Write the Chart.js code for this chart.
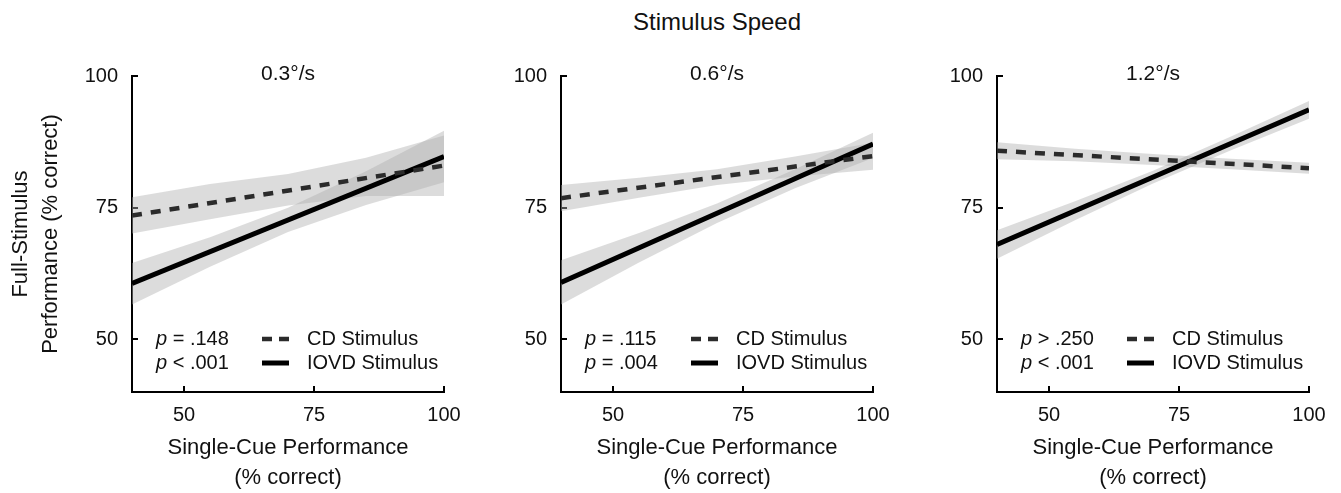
<!DOCTYPE html>
<html>
<head>
<meta charset="utf-8">
<script src="https://cdn.jsdelivr.net/npm/chart.js@4.4.1/dist/chart.umd.min.js"></script>
<style>
  body { margin: 0; background: #fff; }
  #wrap { position: relative; width: 1341px; height: 493px; overflow: hidden; }
  #title {
    position: absolute; left: 517px; width: 400px; top: 7px;
    text-align: center; font: 24px/30px "Liberation Sans", Arial, sans-serif;
    color: #111;
  }
  canvas { position: absolute; top: 0; }
</style>
</head>
<body>
<div id="wrap">
  <div id="title">Stimulus Speed</div>
  <canvas id="c0" width="460" height="493" style="left:0px"></canvas>
  <canvas id="c1" width="460" height="493" style="left:429px"></canvas>
  <canvas id="c2" width="460" height="493" style="left:865px"></canvas>
</div>
<script>
var FONT = '"Liberation Sans", Arial, sans-serif';

// panels (stimulus speed)
var speeds = ['0.3°/s', '0.6°/s', '1.2°/s'];

// fitted regression lines, at x = 40 and x = 100
var lineX = [40, 100];
var cdLine = [[73.5, 83.0], [76.8, 84.8], [85.8, 82.5]];
var iovdLine = [[60.6, 84.7], [60.8, 87.1], [68.0, 93.6]];

// confidence bands
var bandX = [40, 55, 70, 85, 101];
var cdUpper = [[77.0, 79.5, 81.4, 84.5, 89.0], [79.3, 80.7, 82.3, 84.7, 87.5], [87.4, 86.2, 85.2, 84.3, 83.5]];
var cdLower = [[70.1, 72.8, 75.4, 77.2, 77.2], [74.3, 76.9, 79.3, 80.9, 82.3], [84.2, 83.8, 83.1, 82.3, 81.4]];
var iovdUpper = [[64.5, 69.4, 75.0, 81.9, 90.1], [65.0, 70.2, 75.8, 82.3, 89.7], [70.7, 76.2, 82.0, 88.5, 95.7]];
var iovdLower = [[56.6, 63.8, 70.4, 75.5, 80.1], [56.6, 64.6, 72.1, 78.7, 84.8], [65.3, 72.6, 79.6, 85.9, 92.3]];

// p values
var pCD = ['= .148', '= .115', '> .250'];
var pIOVD = ['< .001', '= .004', '< .001'];

var xTicks = [50, 75, 100];
var yTicks = [50, 75, 100];

var bandColor = 'rgba(173,173,173,0.43)';

function pts(xs, ys) {
  return xs.map(function (x, i) { return { x: x, y: ys[i] }; });
}

function makePanel(i) {
  var ctx = document.getElementById('c' + i).getContext('2d');

  // panel title, p values and legend drawn inside the plot
  var notes = {
    id: 'notes' + i,
    afterDraw: function (chart) {
      var c = chart.ctx, a = chart.chartArea;
      c.save();
      c.fillStyle = '#111';
      c.textBaseline = 'middle';
      c.textAlign = 'center';
      c.font = '21px ' + FONT;
      c.fillText(speeds[i], (a.left + a.right) / 2, 74);

      c.textAlign = 'left';
      var rows = [[pCD[i], 339], [pIOVD[i], 363]];
      rows.forEach(function (r) {
        c.font = 'italic 20px ' + FONT;
        c.fillText('p', a.left + 24, r[1]);
        var w = c.measureText('p').width;
        c.font = '20px ' + FONT;
        c.fillText(' ' + r[0], a.left + 24 + w, r[1]);
      });

      c.lineCap = 'butt';
      c.strokeStyle = '#2b2b2b';
      c.lineWidth = 4.5;
      c.setLineDash([10, 7]);
      c.beginPath(); c.moveTo(a.left + 130, 339); c.lineTo(a.left + 157, 339); c.stroke();
      c.setLineDash([]);
      c.strokeStyle = '#000';
      c.lineWidth = 5;
      c.beginPath(); c.moveTo(a.left + 130, 363); c.lineTo(a.left + 157, 363); c.stroke();

      c.font = '20px ' + FONT;
      c.fillText('CD Stimulus', a.left + 175, 339);
      c.fillText('IOVD Stimulus', a.left + 175, 363);
      c.restore();
    }
  };

  return new Chart(ctx, {
    type: 'line',
    data: {
      datasets: [
        { data: pts(bandX, cdLower[i]), borderWidth: 0, pointRadius: 0, fill: false, order: 2 },
        { data: pts(bandX, cdUpper[i]), borderWidth: 0, pointRadius: 0, fill: '-1', backgroundColor: bandColor, order: 2 },
        { data: pts(bandX, iovdLower[i]), borderWidth: 0, pointRadius: 0, fill: false, order: 2 },
        { data: pts(bandX, iovdUpper[i]), borderWidth: 0, pointRadius: 0, fill: '-1', backgroundColor: bandColor, order: 2 },
        { data: pts(lineX, cdLine[i]), borderColor: '#2b2b2b', borderWidth: 4.5, borderDash: [10, 9], pointRadius: 0, fill: false, order: 0 },
        { data: pts(lineX, iovdLine[i]), borderColor: '#000', borderWidth: 5, pointRadius: 0, fill: false, order: 0 }
      ]
    },
    options: {
      responsive: false,
      animation: false,
      devicePixelRatio: 1,
      layout: { padding: { left: 0, right: 16, top: 76, bottom: 0 } },
      plugins: { legend: { display: false }, tooltip: { enabled: false } },
      scales: {
        x: {
          type: 'linear', min: 40, max: 100,
          afterBuildTicks: function (s) { s.ticks = xTicks.map(function (v) { return { value: v }; }); },
          afterFit: function (s) { s.height = 101; s.paddingLeft = 0; s.paddingRight = 0; },
          grid: { drawOnChartArea: false, drawTicks: true, tickLength: -6, color: '#000', lineWidth: 2 },
          border: { display: true, color: '#000', width: 2 },
          ticks: { color: '#111', font: { family: FONT, size: 20 }, padding: 17, maxRotation: 0 },
          title: {
            display: true, text: ['Single-Cue Performance', '(% correct)'], color: '#111',
            font: { family: FONT, size: 22, lineHeight: 1.36 }, padding: { top: 0, bottom: 0 }
          }
        },
        y: {
          type: 'linear', min: 40, max: 100,
          afterBuildTicks: function (s) { s.ticks = yTicks.map(function (v) { return { value: v }; }); },
          afterFit: function (s) { s.width = 132; s.paddingTop = 0; s.paddingBottom = 0; },
          grid: { drawOnChartArea: false, drawTicks: true, tickLength: -6, color: '#000', lineWidth: 2 },
          border: { display: true, color: '#000', width: 2 },
          ticks: { color: '#111', font: { family: FONT, size: 20 }, padding: 20 },
          title: {
            display: i === 0, text: ['Full-Stimulus', 'Performance (% correct)'], color: '#111',
            font: { family: FONT, size: 22, lineHeight: 1.36 }, padding: { top: 6, bottom: 0 }
          }
        }
      }
    },
    plugins: [notes]
  });
}

speeds.forEach(function (s, i) { makePanel(i); });
</script>
</body>
</html>
